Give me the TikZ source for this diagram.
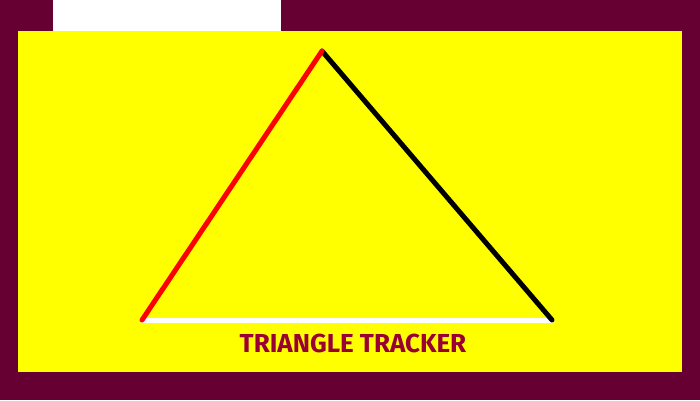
\documentclass[tikz,border=0pt]{standalone}
\usepackage{fontspec}
\setmainfont{Fira Sans}
\definecolor{tmaroon}{RGB}{102,0,51}
\definecolor{tyellow}{RGB}{255,255,0}
\definecolor{ttext}{RGB}{153,0,51}
\tikzset{
  side/.style={line width=5pt, line cap=round},
  title/.style={font=\fontsize{26}{26}\selectfont\bfseries, text=ttext, inner sep=0pt}
}
\begin{document}
\begin{tikzpicture}[x=1pt,y=-1pt]
  %% background and panels
  \fill[tmaroon] (0,0) rectangle (700,400);
  \fill[white] (53,0) rectangle (281,31);
  \fill[tyellow] (18,31) rectangle (682,372);

  %% triangle corners
  \coordinate (apex) at (322,51);
  \coordinate (left) at (142,320);
  \coordinate (right) at (552,320);

  \draw[side, white] (left) -- (right);
  \draw[side, black] (apex) -- (right);
  \draw[side, red] (left) -- (apex);

  \node[title] (label) at (353,343) {TRIANGLE TRACKER};
\end{tikzpicture}
\end{document}
